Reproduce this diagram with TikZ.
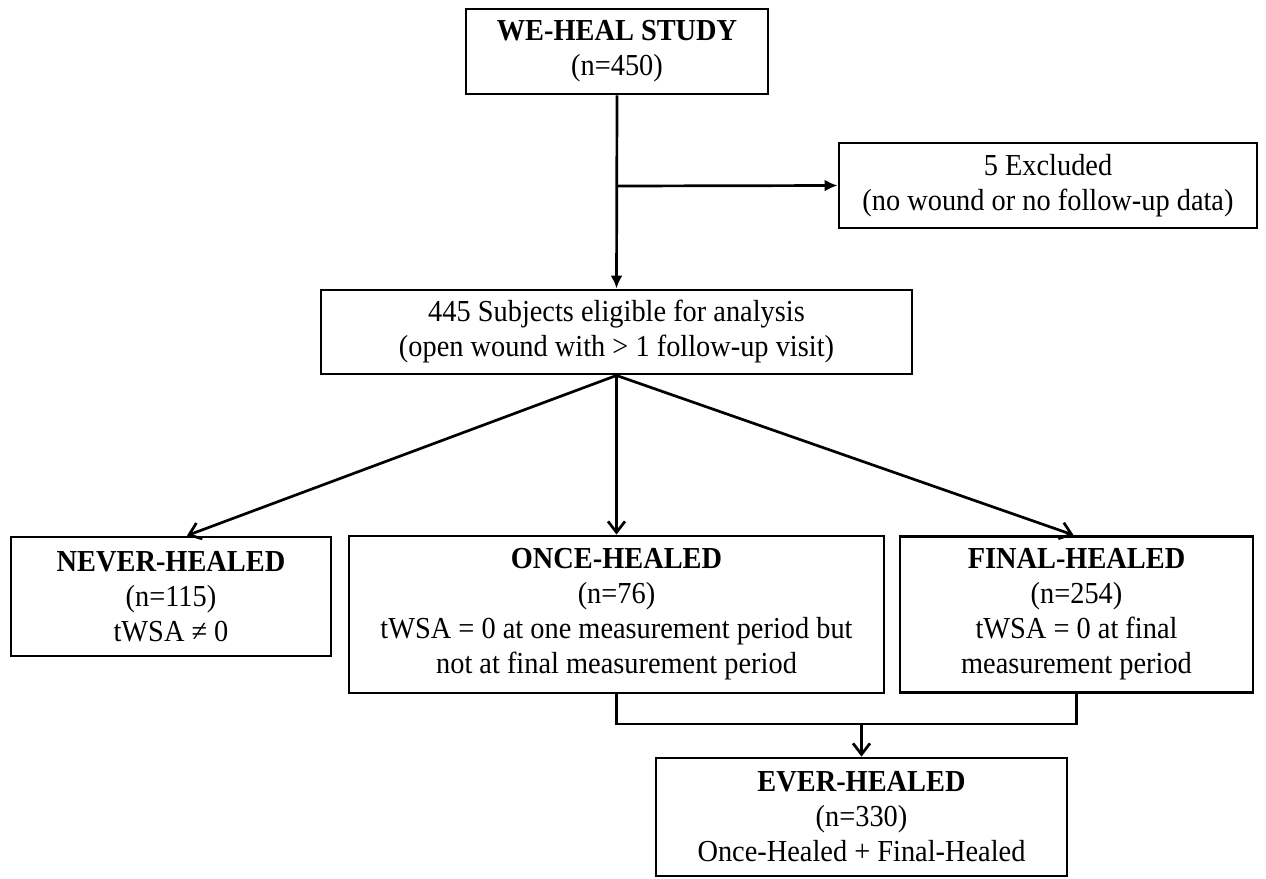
\documentclass[tikz,border=0pt]{standalone}
\usepackage{fontspec}
\setmainfont{Liberation Serif}[FakeStretch=0.93]
\usetikzlibrary{arrows.meta}
\tikzset{
  box/.style={draw, line width=2.9pt, inner sep=0pt, align=center,
    font=\fontsize{30.5}{35}\selectfont},
  arrA/.style={line width=2.7pt, -{Latex[length=13pt,width=12pt]}},
  arrB/.style={line width=2.7pt, -{Straight Barb[length=11pt,width=17pt,line width=2.7pt]}},
  conn/.style={line width=2.7pt},
}
\begin{document}
\begin{tikzpicture}[x=1pt,y=-1pt]
\useasboundingbox (0,0) rectangle (1266,878);
\fill[white] (0,0) rectangle (1266,878);

\node[box, minimum width=302pt, minimum height=85pt] (we) at (617,51.5)
  {\textbf{WE-HEAL STUDY}\\(n=450)};
\node[box, minimum width=418pt, minimum height=85pt] (excl) at (1048,185.5)
  {5 Excluded\\(no wound or no follow-up data)};
\node[box, minimum width=591pt, minimum height=84pt] (elig) at (616.5,332)
  {445 Subjects eligible for analysis\\(open wound with > 1 follow-up visit)};
\node[box, minimum width=320pt, minimum height=119pt] (never) at (171,596.5)
  {\textbf{NEVER-HEALED}\\(n=115)\\tWSA ≠ 0};
\node[box, minimum width=535pt, minimum height=157pt] (once) at (616.5,614.5)
  {\textbf{ONCE-HEALED}\\(n=76)\\tWSA = 0 at one measurement period but\\not at final measurement period};
\node[box, minimum width=353pt, minimum height=156pt] (final) at (1076.5,614.5)
  {\textbf{FINAL-HEALED}\\(n=254)\\tWSA = 0 at final\\measurement period};
\node[box, minimum width=411pt, minimum height=118pt] (ever) at (861.5,817)
  {\textbf{EVER-HEALED}\\(n=330)\\Once-Healed + Final-Healed};

\coordinate (br) at (617,186);
\coordinate (j) at (861.5,724);

\draw[arrA] (we.south) -- (elig.north);
\draw[arrA] (br) -- (excl.west);

\draw[arrB] (elig.south) -- ([xshift=16pt]never.north);
\draw[arrB] (elig.south) -- (once.north);
\draw[arrB] (elig.south) -- ([xshift=-3pt]final.north);

\draw[conn] (once.south) |- (j) -| (final.south);
\draw[arrB] (j) -- (ever.north);
\end{tikzpicture}
\end{document}
